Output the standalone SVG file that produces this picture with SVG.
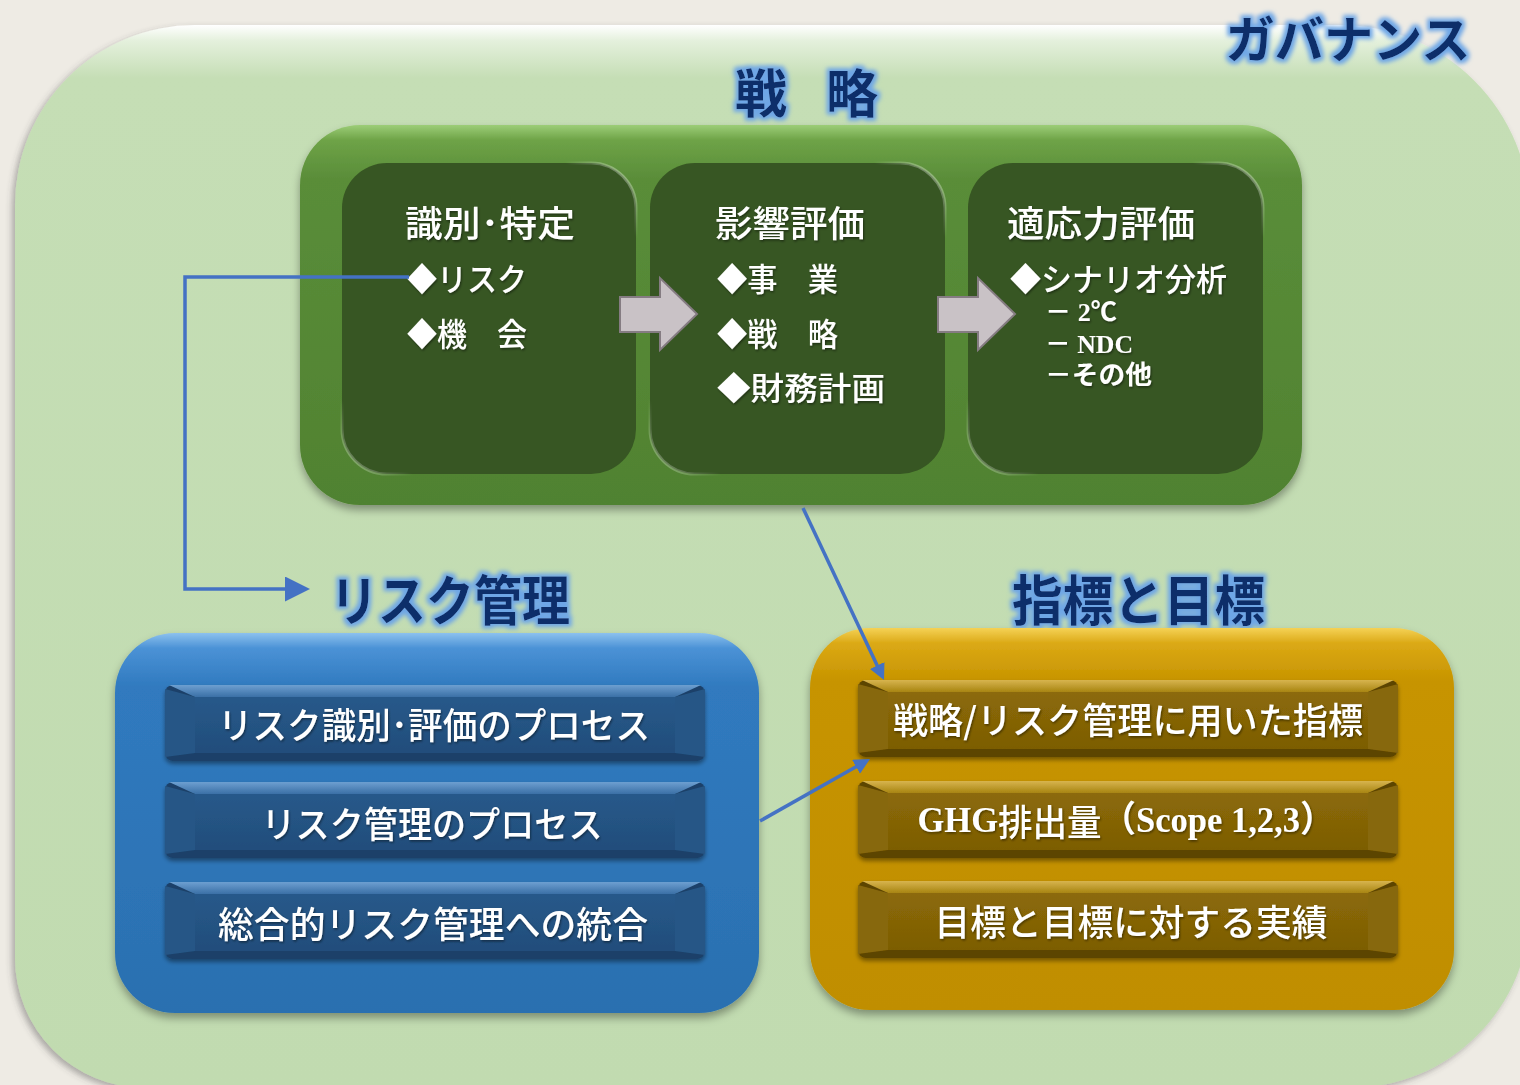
<svg xmlns="http://www.w3.org/2000/svg" width="1520" height="1085" viewBox="0 0 1520 1085">
<defs>
<style>
.jp{font-family:"Noto Sans CJK JP","Noto Sans",sans-serif;}
.title{font-family:"Noto Sans CJK JP","Noto Sans",sans-serif;font-weight:bold;fill:#0f2d6b;filter:url(#glow);}
.wt{font-family:"Noto Sans CJK JP","Noto Sans",sans-serif;fill:#ffffff;font-weight:500;filter:url(#tshadow);}
.serif{font-family:"Liberation Serif","Noto Sans CJK JP",serif;font-weight:bold;}
.inner{fill:#375623;stroke:url(#gloss);stroke-width:3;}
.garrow{fill:#c9c2c6;stroke:#857c82;stroke-width:2;stroke-linejoin:miter;}
.conn{fill:none;stroke:#4472c4;stroke-width:3.5;}
.bb-base{fill:#1b4169;}
.bb-top{fill:url(#bbTop);}
.bb-side{fill:#275786;}
.bb-face{fill:url(#bbFace);}
.gb-base{fill:#5c4404;}
.gb-top{fill:url(#gbTop);}
.gb-side{fill:#876709;}
.gb-face{fill:url(#gbFace);}
</style>
<filter id="glow" x="-10%" y="-30%" width="120%" height="160%">
<feMorphology in="SourceAlpha" operator="dilate" radius="3" result="d"/>
<feGaussianBlur in="d" stdDeviation="2.2" result="b"/>
<feFlood flood-color="#6ea6e6"/>
<feComposite in2="b" operator="in" result="g"/>
<feMerge><feMergeNode in="g"/><feMergeNode in="SourceGraphic"/></feMerge>
</filter>
<filter id="tshadow" x="-5%" y="-20%" width="110%" height="140%">
<feDropShadow dx="1" dy="1.5" stdDeviation="1" flood-color="#000" flood-opacity="0.45"/>
</filter>
<filter id="shadow" x="-5%" y="-5%" width="110%" height="115%">
<feDropShadow dx="0" dy="5" stdDeviation="4" flood-color="#000" flood-opacity="0.35"/>
</filter>
<filter id="oshadow" x="-5%" y="-5%" width="110%" height="110%">
<feDropShadow dx="-3" dy="3" stdDeviation="3" flood-color="#444" flood-opacity="0.4"/>
</filter>
<filter id="bshadow" x="-5%" y="-10%" width="110%" height="130%">
<feDropShadow dx="0" dy="3" stdDeviation="2" flood-color="#000" flood-opacity="0.4"/>
</filter>
<linearGradient id="outerGrad" x1="0" y1="25" x2="0" y2="1088" gradientUnits="userSpaceOnUse">
<stop offset="0" stop-color="#ffffff"/>
<stop offset="0.015" stop-color="#e4f0dc"/>
<stop offset="0.05" stop-color="#c5deb5"/>
<stop offset="1" stop-color="#c1dbb0"/>
</linearGradient>
<linearGradient id="greenGrad" x1="0" y1="0" x2="0" y2="1">
<stop offset="0" stop-color="#9ccd77"/>
<stop offset="0.04" stop-color="#6ea347"/>
<stop offset="0.14" stop-color="#5a8d39"/>
<stop offset="1" stop-color="#508231"/>
</linearGradient>
<linearGradient id="blueGrad" x1="0" y1="0" x2="0" y2="1">
<stop offset="0" stop-color="#8cc1ee"/>
<stop offset="0.04" stop-color="#4b92d6"/>
<stop offset="0.14" stop-color="#307abf"/>
<stop offset="1" stop-color="#2b70b0"/>
</linearGradient>
<linearGradient id="goldGrad" x1="0" y1="0" x2="0" y2="1">
<stop offset="0" stop-color="#f5d256"/>
<stop offset="0.04" stop-color="#dba915"/>
<stop offset="0.14" stop-color="#c79400"/>
<stop offset="1" stop-color="#c08e00"/>
</linearGradient>
<linearGradient id="gloss" x1="1" y1="0" x2="0" y2="1">
<stop offset="0" stop-color="#ffffff" stop-opacity="0.5"/>
<stop offset="0.12" stop-color="#ffffff" stop-opacity="0"/>
<stop offset="0.88" stop-color="#ffffff" stop-opacity="0"/>
<stop offset="1" stop-color="#ffffff" stop-opacity="0.4"/>
</linearGradient>
<linearGradient id="bbTop" x1="0" y1="0" x2="0" y2="1">
<stop offset="0" stop-color="#6d9fd0"/>
<stop offset="1" stop-color="#3b70a6"/>
</linearGradient>
<linearGradient id="bbFace" x1="0" y1="0" x2="0" y2="1">
<stop offset="0" stop-color="#28598a"/>
<stop offset="1" stop-color="#214d7b"/>
</linearGradient>
<linearGradient id="gbTop" x1="0" y1="0" x2="0" y2="1">
<stop offset="0" stop-color="#d7b44e"/>
<stop offset="1" stop-color="#a88512"/>
</linearGradient>
<linearGradient id="gbFace" x1="0" y1="0" x2="0" y2="1">
<stop offset="0" stop-color="#8c6a08"/>
<stop offset="1" stop-color="#7c5d04"/>
</linearGradient>
<marker id="arrL" viewBox="0 0 10 10" markerWidth="25" markerHeight="25" markerUnits="userSpaceOnUse" refX="6" refY="5" orient="auto">
<path d="M0,0 L10,5 L0,10 z" fill="#4472c4"/>
</marker>
<marker id="arrS" viewBox="0 0 10 10" markerWidth="16" markerHeight="16" markerUnits="userSpaceOnUse" refX="6" refY="5" orient="auto">
<path d="M0,0 L10,5 L0,10 z" fill="#4472c4"/>
</marker>
</defs>

<rect x="0" y="0" width="1520" height="1085" fill="#eeebe4"/>

<g id="governance">
<path d="M195,25 H1340 A190,190 0 0 1 1530,215 V908 A180,180 0 0 1 1350,1088 H145 A130,130 0 0 1 15,958 V205 A180,180 0 0 1 195,25 Z" fill="url(#outerGrad)" filter="url(#oshadow)"/>
<text class="title" x="1348" y="36" font-size="50" text-anchor="middle" dominant-baseline="central" textLength="245" lengthAdjust="spacingAndGlyphs">ガバナンス</text>
</g>

<g id="strategy">
<text class="title" x="735" y="90" font-size="52" dominant-baseline="central" textLength="143" lengthAdjust="spacing">戦　略</text>
<rect x="300" y="125" width="1002" height="380" rx="60" fill="url(#greenGrad)" filter="url(#shadow)"/>
</g>

<g id="identify">
<rect class="inner" x="342" y="163" width="294" height="311" rx="45"/>
<text class="wt" x="405" y="221" font-size="36" dominant-baseline="central" textLength="170" lengthAdjust="spacingAndGlyphs">識別･特定</text>
<text class="wt" x="407" y="277" font-size="32" dominant-baseline="central" textLength="120" lengthAdjust="spacingAndGlyphs">◆リスク</text>
<text class="wt" x="407" y="332" font-size="32" dominant-baseline="central" textLength="120" lengthAdjust="spacingAndGlyphs">◆機　会</text>
</g>

<g id="impact">
<rect class="inner" x="650" y="163" width="295" height="311" rx="45"/>
<text class="wt" x="715" y="221" font-size="36" dominant-baseline="central" textLength="150" lengthAdjust="spacingAndGlyphs">影響評価</text>
<text class="wt" x="717" y="277" font-size="32" dominant-baseline="central" textLength="121" lengthAdjust="spacingAndGlyphs">◆事　業</text>
<text class="wt" x="717" y="332" font-size="32" dominant-baseline="central" textLength="121" lengthAdjust="spacingAndGlyphs">◆戦　略</text>
<text class="wt" x="717" y="386" font-size="32" dominant-baseline="central" textLength="168" lengthAdjust="spacingAndGlyphs">◆財務計画</text>
</g>

<g id="resilience">
<rect class="inner" x="968" y="163" width="295" height="311" rx="45"/>
<text class="wt" x="1007" y="221" font-size="36" dominant-baseline="central" textLength="188" lengthAdjust="spacingAndGlyphs">適応力評価</text>
<text class="wt" x="1010" y="277" font-size="32" dominant-baseline="central" textLength="217" lengthAdjust="spacingAndGlyphs">◆シナリオ分析</text>
<text class="wt serif" x="1045" y="312" font-size="26" dominant-baseline="central" textLength="72" lengthAdjust="spacingAndGlyphs">－ 2℃</text>
<text class="wt serif" x="1045" y="344" font-size="26" dominant-baseline="central" textLength="88" lengthAdjust="spacingAndGlyphs">－ NDC</text>
<text class="wt serif" x="1045" y="375" font-size="26" dominant-baseline="central" textLength="107" lengthAdjust="spacingAndGlyphs">－その他</text>
</g>

<g id="flow-arrow-1">
<polygon class="garrow" points="620,297 660,297 660,278 697,314 660,350 660,332 620,332"/>
</g>
<g id="flow-arrow-2">
<polygon class="garrow" points="938,297 978,297 978,278 1015,314 978,350 978,332 938,332"/>
</g>

<g id="risk-management">
<text class="title" x="330" y="597" font-size="54" dominant-baseline="central" textLength="240" lengthAdjust="spacingAndGlyphs">リスク管理</text>
<rect x="115" y="633" width="644" height="380" rx="60" fill="url(#blueGrad)" filter="url(#shadow)"/>
</g>

<g id="rm-1" filter="url(#bshadow)">
<rect class="bb-base" x="165" y="685" width="540" height="76" rx="8"/>
<polygon class="bb-top" points="169,685 701,685 675,697 195,697"/>
<polygon class="bb-side" points="165,689 195,697 195,753 165,757"/>
<polygon class="bb-side" points="705,689 675,697 675,753 705,757"/>
<rect class="bb-face" x="195" y="697" width="480" height="56"/>
<text class="wt" x="434" y="723" font-size="36" text-anchor="middle" dominant-baseline="central" textLength="432" lengthAdjust="spacingAndGlyphs">リスク識別･評価のプロセス</text>
</g>
<g id="rm-2" filter="url(#bshadow)">
<rect class="bb-base" x="165" y="782" width="540" height="76" rx="8"/>
<polygon class="bb-top" points="169,782 701,782 675,794 195,794"/>
<polygon class="bb-side" points="165,786 195,794 195,850 165,854"/>
<polygon class="bb-side" points="705,786 675,794 675,850 705,854"/>
<rect class="bb-face" x="195" y="794" width="480" height="56"/>
<text class="wt" x="432" y="822" font-size="36" text-anchor="middle" dominant-baseline="central" textLength="341" lengthAdjust="spacingAndGlyphs">リスク管理のプロセス</text>
</g>
<g id="rm-3" filter="url(#bshadow)">
<rect class="bb-base" x="165" y="882" width="540" height="77" rx="8"/>
<polygon class="bb-top" points="169,882 701,882 675,894 195,894"/>
<polygon class="bb-side" points="165,886 195,894 195,951 165,955"/>
<polygon class="bb-side" points="705,886 675,894 675,951 705,955"/>
<rect class="bb-face" x="195" y="894" width="480" height="57"/>
<text class="wt" x="433" y="922" font-size="36" text-anchor="middle" dominant-baseline="central" textLength="430" lengthAdjust="spacingAndGlyphs">総合的リスク管理への統合</text>
</g>

<g id="metrics-targets">
<text class="title" x="1012" y="597" font-size="54" dominant-baseline="central" textLength="253" lengthAdjust="spacingAndGlyphs">指標と目標</text>
<rect x="810" y="628" width="644" height="382" rx="60" fill="url(#goldGrad)" filter="url(#shadow)"/>
</g>

<g id="mt-1" filter="url(#bshadow)">
<rect class="gb-base" x="858" y="680" width="540" height="77" rx="8"/>
<polygon class="gb-top" points="862,680 1394,680 1368,692 888,692"/>
<polygon class="gb-side" points="858,684 888,692 888,749 858,753"/>
<polygon class="gb-side" points="1398,684 1368,692 1368,749 1398,753"/>
<rect class="gb-face" x="888" y="692" width="480" height="57"/>
<text class="wt" x="1128" y="718" font-size="36" text-anchor="middle" dominant-baseline="central" textLength="470" lengthAdjust="spacingAndGlyphs">戦略/リスク管理に用いた指標</text>
</g>
<g id="mt-2" filter="url(#bshadow)">
<rect class="gb-base" x="858" y="781" width="540" height="77" rx="8"/>
<polygon class="gb-top" points="862,781 1394,781 1368,793 888,793"/>
<polygon class="gb-side" points="858,785 888,793 888,850 858,854"/>
<polygon class="gb-side" points="1398,785 1368,793 1368,850 1398,854"/>
<rect class="gb-face" x="888" y="793" width="480" height="57"/>
<text class="wt" x="1126" y="820" font-size="36" text-anchor="middle" dominant-baseline="central" textLength="417" lengthAdjust="spacingAndGlyphs"><tspan class="serif">GHG</tspan>排出量<tspan class="serif">（Scope 1,2,3）</tspan></text>
</g>
<g id="mt-3" filter="url(#bshadow)">
<rect class="gb-base" x="858" y="881" width="540" height="77" rx="8"/>
<polygon class="gb-top" points="862,881 1394,881 1368,893 888,893"/>
<polygon class="gb-side" points="858,885 888,893 888,950 858,954"/>
<polygon class="gb-side" points="1398,885 1368,893 1368,950 1398,954"/>
<rect class="gb-face" x="888" y="893" width="480" height="57"/>
<text class="wt" x="1131" y="920" font-size="36" text-anchor="middle" dominant-baseline="central" textLength="393" lengthAdjust="spacingAndGlyphs">目標と目標に対する実績</text>
</g>

<g id="connectors">
<path class="conn" d="M409,277 H185 V589 H300" marker-end="url(#arrL)"/>
<path class="conn" d="M803,508 L881.3,674.2" marker-end="url(#arrS)"/>
<path class="conn" d="M760,821 L864.4,762.1" marker-end="url(#arrS)"/>
</g>
</svg>
